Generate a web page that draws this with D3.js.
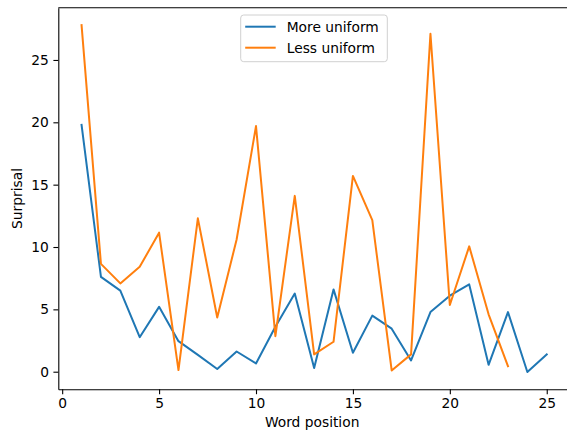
<!DOCTYPE html>
<html>
<head>
<meta charset="utf-8">
<script src="https://cdn.jsdelivr.net/npm/d3@7"></script>
<style>
  html, body { margin: 0; padding: 0; background: #fff; }
  svg { display: block; font-family: "DejaVu Sans", sans-serif; }
</style>
</head>
<body>
<svg id="chart" width="567" height="430"></svg>
<script>
// Surprisal per word position for two sentence variants
const moreUniform = [19.8, 7.6, 6.5, 2.77, 5.2, 2.45, 1.35, 0.22, 1.62, 0.66, 3.6, 6.27, 0.29, 6.6, 1.52, 4.5, 3.45, 0.9, 4.78, 6.1, 7.0, 0.55, 4.78, -0.02, 1.39];
const lessUniform = [27.8, 8.65, 7.08, 8.41, 11.15, 0.13, 12.3, 4.35, 10.6, 19.7, 2.85, 14.1, 1.39, 2.4, 15.7, 12.15, 0.1, 1.39, 27.1, 5.35, 10.05, 4.6, 0.45];
const seriesNames = ["More uniform", "Less uniform"];
const seriesColors = ["#1f77b4", "#ff7f0e"];
const xTicks = [0, 5, 10, 15, 20, 25];
const yTicks = [0, 5, 10, 15, 20, 25];

const series = [moreUniform, lessUniform].map((vals, i) => ({
  name: seriesNames[i],
  color: seriesColors[i],
  points: vals.map((v, j) => ({ pos: j + 1, value: v }))
}));

const FONT = "13.8px";
const svg = d3.select("#chart");
const plot = { left: 58.3, right: 570, top: 7.7, bottom: 389.3 };

// 5% margins around the data range on both axes
function padded(lo, hi) {
  const m = (hi - lo) * 0.05;
  return [lo - m, hi + m];
}
const allPts = series.flatMap(s => s.points);
const x = d3.scaleLinear()
  .domain(padded(d3.min(allPts, d => d.pos), d3.max(allPts, d => d.pos)))
  .range([plot.left, plot.right]);
const y = d3.scaleLinear()
  .domain(padded(d3.min(allPts, d => d.value), d3.max(allPts, d => d.value)))
  .range([plot.bottom, plot.top]);

// Data lines
const line = d3.line().x(d => x(d.pos)).y(d => y(d.value));
svg.append("g").selectAll("path")
  .data(series)
  .join("path")
  .attr("d", d => line(d.points))
  .attr("fill", "none")
  .attr("stroke", d => d.color)
  .attr("stroke-width", 2)
  .attr("stroke-linejoin", "round")
  .attr("stroke-linecap", "square");

// Axes
const xAxis = svg.append("g")
  .attr("transform", `translate(0,${plot.bottom})`)
  .call(d3.axisBottom(x).tickValues(xTicks).tickSize(4.9).tickPadding(4.5).tickSizeOuter(0));
const yAxis = svg.append("g")
  .attr("transform", `translate(${plot.left},0)`)
  .call(d3.axisLeft(y).tickValues(yTicks).tickSize(4.9).tickPadding(4.5).tickSizeOuter(0));

[xAxis, yAxis].forEach(g => {
  g.select(".domain").attr("stroke", "#000").attr("stroke-width", 1.1);
  g.selectAll(".tick line").attr("stroke", "#000").attr("stroke-width", 1.1);
  g.selectAll(".tick text")
    .attr("fill", "#000")
    .style("font-family", "DejaVu Sans, sans-serif")
    .style("font-size", FONT);
});

// Top and right spines
svg.append("line")
  .attr("x1", plot.left).attr("x2", plot.right)
  .attr("y1", plot.top).attr("y2", plot.top)
  .attr("stroke", "#000").attr("stroke-width", 1.1);
svg.append("line")
  .attr("x1", plot.right).attr("x2", plot.right)
  .attr("y1", plot.top).attr("y2", plot.bottom)
  .attr("stroke", "#000").attr("stroke-width", 1.1);

// Axis titles
svg.append("text")
  .attr("x", (plot.left + plot.right) / 2 - 2)
  .attr("y", 426.5)
  .attr("text-anchor", "middle")
  .style("font-size", FONT)
  .text("Word position");
svg.append("text")
  .attr("transform", `translate(22,${(plot.top + plot.bottom) / 2}) rotate(-90)`)
  .attr("text-anchor", "middle")
  .style("font-size", FONT)
  .text("Surprisal");

// Legend
const legend = svg.append("g").attr("transform", "translate(240.7,15)");
legend.append("rect")
  .attr("width", 146.6).attr("height", 46.7)
  .attr("rx", 3).attr("ry", 3)
  .attr("fill", "#fff").attr("fill-opacity", 0.8)
  .attr("stroke", "#d0d0d0").attr("stroke-width", 1);
const rows = legend.selectAll("g.row")
  .data(series)
  .join("g")
  .attr("class", "row")
  .attr("transform", (d, i) => `translate(0,${11.7 + i * 21})`);
rows.append("line")
  .attr("x1", 4.5).attr("x2", 35)
  .attr("stroke", d => d.color)
  .attr("stroke-width", 2);
rows.append("text")
  .attr("x", 46)
  .attr("y", 5)
  .style("font-size", FONT)
  .text(d => d.name);
</script>
</body>
</html>
